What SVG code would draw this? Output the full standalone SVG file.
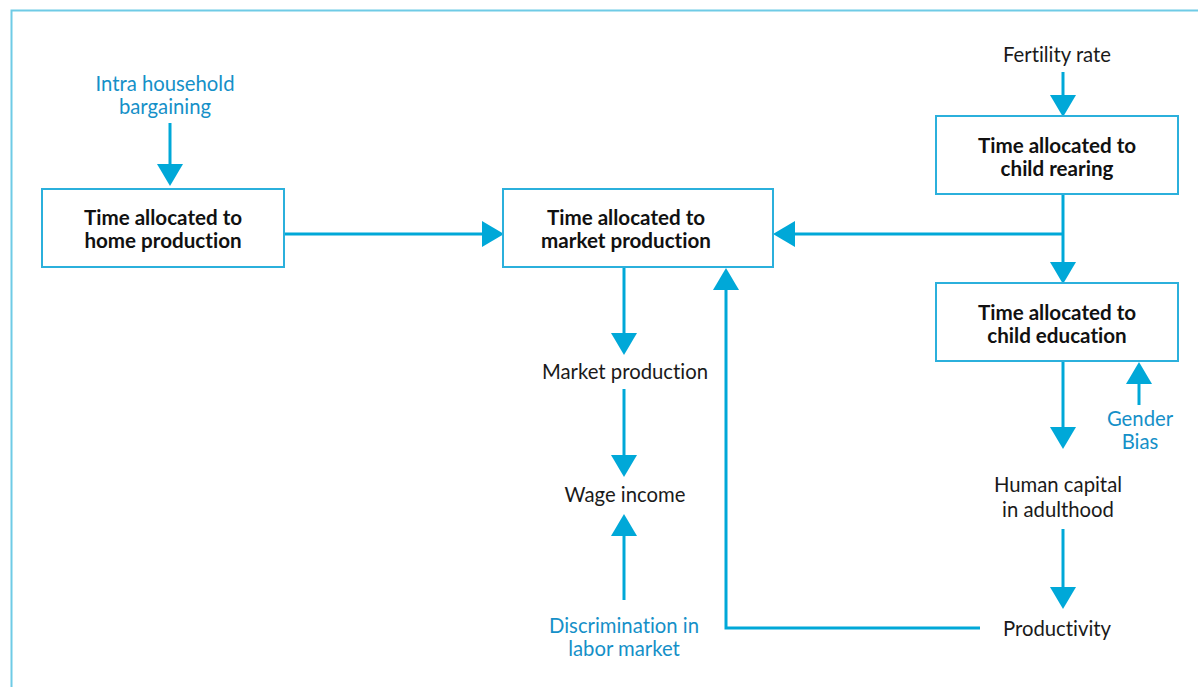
<svg xmlns="http://www.w3.org/2000/svg" width="1198" height="687" viewBox="0 0 1198 687">
<defs>
<style>
.box{fill:#fff;stroke:#2bb0dc;stroke-width:2}
.t{font-family:Lato,"Open Sans",sans-serif;font-size:20.3px;text-anchor:middle;fill:#1a1a1a;font-variant-ligatures:none}
.b{font-weight:bold;fill:#111;font-size:20.6px}
.blue{fill:#1590c8}
.ln{fill:none;stroke:#00a8d8;stroke-width:3}
.ah{fill:#00a8d8}
</style>
</defs>
<rect width="1198" height="687" fill="#fff"/>
<path d="M11.5,687 V10.5 H1198" fill="none" stroke="#6fcbe6" stroke-width="2"/>
<g id="connectors">
<path class="ln" d="M170,123 V166"/><path class="ah" d="M157,164 L183,164 L170,186 Z"/>
<path class="ln" d="M284,234 H484"/><path class="ah" d="M482,221 L482,247 L504,234 Z"/>
<path class="ln" d="M1063,234 H792"/><path class="ah" d="M795,221 L795,247 L773,234 Z"/>
<path class="ln" d="M1063,72 V97"/><path class="ah" d="M1050,95 L1076,95 L1063,117 Z"/>
<path class="ln" d="M1063,194 V264"/><path class="ah" d="M1050,262 L1076,262 L1063,284 Z"/>
<path class="ln" d="M624,267 V335"/><path class="ah" d="M611,333 L637,333 L624,355 Z"/>
<path class="ln" d="M624,389 V457"/><path class="ah" d="M611,455 L637,455 L624,477 Z"/>
<path class="ln" d="M624,600 V533"/><path class="ah" d="M611,536 L637,536 L624,514 Z"/>
<path class="ln" d="M980,628 H726 V288"/><path class="ah" d="M713,290 L739,290 L726,268 Z"/>
<path class="ln" d="M1063,361 V429"/><path class="ah" d="M1050,427 L1076,427 L1063,449 Z"/>
<path class="ln" d="M1063,529 V589"/><path class="ah" d="M1050,587 L1076,587 L1063,609 Z"/>
<path class="ln" d="M1139,405 V381"/><path class="ah" d="M1126,384 L1152,384 L1139,362 Z"/>
</g>
<g id="intra">
<text class="t blue" x="165" y="91">Intra household</text>
<text class="t blue" x="165" y="114">bargaining</text>
</g>
<g id="home">
<rect class="box" x="42" y="189" width="242" height="78"/>
<text class="t b" x="163" y="225">Time allocated to</text>
<text class="t b" x="163" y="248">home production</text>
</g>
<g id="market">
<rect class="box" x="503" y="189" width="270" height="78"/>
<text class="t b" x="626" y="225">Time allocated to</text>
<text class="t b" x="626" y="248">market production</text>
</g>
<g id="fertility">
<text class="t" x="1057" y="62">Fertility rate</text>
</g>
<g id="rearing">
<rect class="box" x="936" y="116" width="242" height="78"/>
<text class="t b" x="1057" y="153">Time allocated to</text>
<text class="t b" x="1057" y="176">child rearing</text>
</g>
<g id="education">
<rect class="box" x="936" y="283" width="242" height="78"/>
<text class="t b" x="1057" y="320">Time allocated to</text>
<text class="t b" x="1057" y="343">child education</text>
</g>
<g id="marketprod">
<text class="t" x="625" y="379">Market production</text>
</g>
<g id="wage">
<text class="t" x="625" y="502">Wage income</text>
</g>
<g id="discrimination">
<text class="t blue" x="624" y="633">Discrimination in</text>
<text class="t blue" x="624" y="656">labor market</text>
</g>
<g id="gender">
<text class="t blue" x="1140" y="426">Gender</text>
<text class="t blue" x="1140" y="449">Bias</text>
</g>
<g id="humancapital">
<text class="t" x="1058" y="492">Human capital</text>
<text class="t" x="1058" y="517">in adulthood</text>
</g>
<g id="productivity">
<text class="t" x="1057" y="636">Productivity</text>
</g>
</svg>
